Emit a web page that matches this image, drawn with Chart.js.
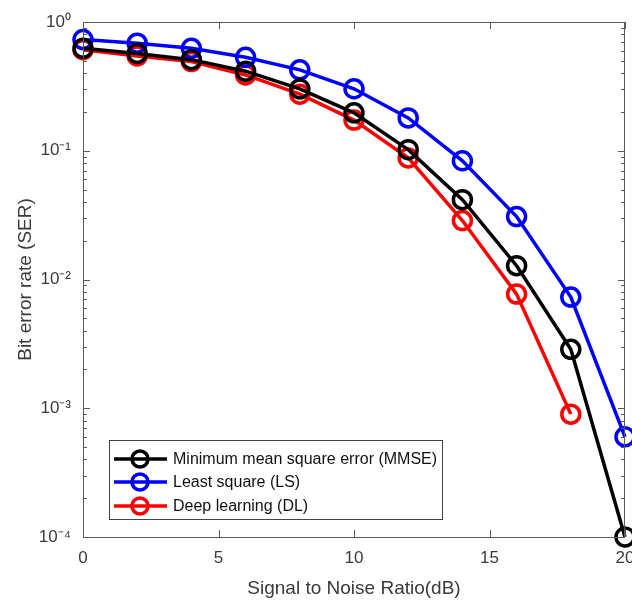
<!DOCTYPE html>
<html>
<head>
<meta charset="utf-8">
<script src="https://cdn.jsdelivr.net/npm/chart.js@4"></script>
<style>
  html, body { margin: 0; padding: 0; background: #fff; }
  #wrap { width: 632px; height: 604px; }
</style>
</head>
<body>
<div id="wrap"><canvas id="myChart" width="632" height="604"></canvas></div>
<script>
// values
const snr = [0, 2, 4, 6, 8, 10, 12, 14, 16, 18, 20];
const mmse = [0.625, 0.57, 0.51, 0.415, 0.302, 0.197, 0.102, 0.0417, 0.0128, 0.00287, 0.0001];
const ls = [0.73, 0.685, 0.625, 0.532, 0.425, 0.303, 0.18, 0.0836, 0.0308, 0.0073, 0.0006];
const dl = [0.61, 0.545, 0.493, 0.388, 0.275, 0.173, 0.088, 0.0287, 0.0077, 0.0009, null];
const xTicks = [0, 5, 10, 15, 20];
const yDecades = [-4, -3, -2, -1, 0];
const seriesNames = ['Minimum mean square error (MMSE)', 'Least square (LS)', 'Deep learning (DL)'];
const seriesColors = ['#000000', '#0000ff', '#ff0000'];

const sup = { '-': '\u207b', '0': '\u2070', '1': '\u00b9', '2': '\u00b2', '3': '\u00b3', '4': '\u2074' };
function powLabel(e) {
  return '10' + String(e).split('').map(c => sup[c]).join('');
}

const font = "'Liberation Sans', Arial, sans-serif";
const axisGray = '#5a5a5a';
const textGray = '#3a3a3a';

function makeSet(i, vals) {
  return {
    label: seriesNames[i],
    data: snr.map((x, k) => ({ x: x, y: vals[k] })),
    borderColor: seriesColors[i],
    pointBorderColor: seriesColors[i],
    pointBackgroundColor: 'rgba(0,0,0,0)',
    borderWidth: 3.5,
    pointRadius: 9,
    pointBorderWidth: 3.5,
    pointHoverRadius: 9,
    fill: false,
    tension: 0,
    clip: false
  };
}

// inward ticks and box, like matlab
const boxTicks = {
  id: 'boxTicks',
  afterDraw(chart) {
    const ctx = chart.ctx;
    const a = chart.chartArea;
    const xs = chart.scales.x, ys = chart.scales.y;
    ctx.save();
    ctx.strokeStyle = axisGray;
    ctx.lineWidth = 1;
    ctx.strokeRect(a.left + 0.5, a.top + 0.5, a.right - a.left - 1, a.bottom - a.top);
    ctx.beginPath();
    xTicks.forEach(v => {
      const px = Math.round(xs.getPixelForValue(v)) + 0.5;
      ctx.moveTo(px, a.bottom); ctx.lineTo(px, a.bottom - 7);
      ctx.moveTo(px, a.top); ctx.lineTo(px, a.top + 7);
    });
    ys.ticks.forEach(t => {
      const py = Math.round(ys.getPixelForValue(t.value)) + 0.5;
      const len = t.major ? 7 : 4;
      ctx.moveTo(a.left, py); ctx.lineTo(a.left + len, py);
      ctx.moveTo(a.right, py); ctx.lineTo(a.right - len, py);
    });
    ctx.stroke();

    // legend
    const lx = 109, ly = 440, lw = 333, lh = 79;
    ctx.fillStyle = '#fff';
    ctx.fillRect(lx, ly, lw, lh);
    ctx.strokeStyle = '#444';
    ctx.strokeRect(lx + 0.5, ly + 0.5, lw, lh);
    ctx.font = '16px ' + font;
    ctx.textBaseline = 'middle';
    const rows = [459, 482, 506];
    seriesNames.forEach((name, i) => {
      const y = rows[i];
      ctx.strokeStyle = seriesColors[i];
      ctx.lineWidth = 3.5;
      ctx.beginPath();
      ctx.moveTo(114, y); ctx.lineTo(167, y);
      ctx.stroke();
      ctx.beginPath();
      ctx.arc(140, y, 8, 0, Math.PI * 2);
      ctx.stroke();
      ctx.fillStyle = '#111';
      ctx.fillText(name, 173, y + 1);
    });
    ctx.restore();
  }
};

const ctx = document.getElementById('myChart').getContext('2d');
new Chart(ctx, {
  type: 'line',
  data: {
    datasets: [makeSet(0, mmse), makeSet(1, ls), makeSet(2, dl)]
  },
  options: {
    responsive: false,
    animation: false,
    events: [],
    layout: { autoPadding: false, padding: { top: 22, right: 7, left: 0, bottom: 0 } },
    plugins: { legend: { display: false }, tooltip: { enabled: false } },
    scales: {
      x: {
        type: 'linear',
        min: 0,
        max: 20,
        afterBuildTicks: s => { s.ticks = xTicks.map(v => ({ value: v })); },
        afterFit: s => { s.height = 67; s.paddingLeft = 0; s.paddingRight = 0; },
        grid: { display: false },
        border: { display: false },
        ticks: { color: textGray, font: { family: font, size: 17 }, padding: 3, maxRotation: 0 },
        title: { display: true, text: 'Signal to Noise Ratio(dB)', color: textGray, font: { family: font, size: 19 }, padding: { top: 4 } }
      },
      y: {
        type: 'logarithmic',
        min: 1e-4,
        max: 1,
        afterBuildTicks: s => {
          const t = [];
          yDecades.forEach(e => {
            for (let m = 1; m <= 9; m++) {
              if (e === 0 && m > 1) break;
              t.push({ value: m * Math.pow(10, e), major: m === 1 });
            }
          });
          s.ticks = t;
        },
        afterFit: s => { s.width = 83; s.paddingTop = 0; s.paddingBottom = 0; },
        grid: { display: false },
        border: { display: false },
        ticks: {
          autoSkip: false,
          color: textGray,
          font: { family: font, size: 17 },
          padding: 4,
          callback: v => {
            const e = Math.round(Math.log10(v));
            return Math.abs(v - Math.pow(10, e)) < 1e-12 ? powLabel(e) : '';
          }
        },
        title: { display: true, text: 'Bit error rate (SER)', color: textGray, font: { family: font, size: 19 }, padding: { top: 14, bottom: 0 } }
      }
    }
  },
  plugins: [boxTicks]
});
</script>
</body>
</html>
